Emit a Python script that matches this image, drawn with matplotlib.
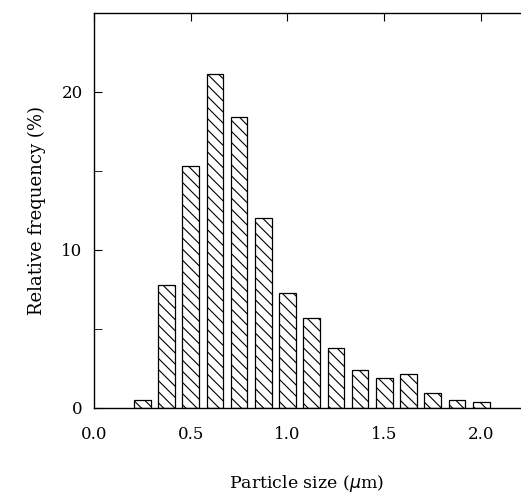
import matplotlib
matplotlib.use("Agg")
import matplotlib.pyplot as plt
import numpy as np

sizes = [0.25, 0.375, 0.5, 0.625, 0.75, 0.875, 1.0, 1.125, 1.25, 1.375, 1.5, 1.625, 1.75, 1.875, 2.0]
freq = [0.5, 7.8, 15.3, 21.1, 18.4, 12.0, 7.3, 5.7, 3.8, 2.4, 1.9, 2.15, 0.95, 0.5, 0.35]
xticks = [0.0, 0.5, 1.0, 1.5, 2.0]
xticklabels = ["0.0", "0.5", "1.0", "1.5", "2.0"]
yticks = [0, 10, 20]

plt.rcParams['font.family'] = ['DejaVu Serif']
plt.rcParams['hatch.linewidth'] = 0.8

fig = plt.figure(figsize=(5.21, 4.95), dpi=100)
ax = fig.add_axes([0.180, 0.176, 0.818, 0.798])
ax.bar(sizes, freq, width=0.086, color='white', edgecolor='black', hatch='\\\\\\', linewidth=0.9)
ax.set_xlim(0, 2.2)
ax.set_ylim(0, 25)
ax.spines['right'].set_visible(False)
ax.set_xticks(xticks)
ax.set_xticklabels(xticklabels, fontsize=12)
ax.set_yticks(yticks)
ax.set_yticklabels([str(v) for v in yticks], fontsize=12)
ax.set_yticks([5, 15, 25], minor=True)
ax.tick_params(axis='x', direction='in', top=True, bottom=False, length=6, pad=13)
ax.tick_params(axis='y', which='both', direction='in', length=6, right=False, pad=8)
for s in ['left', 'bottom', 'top']:
    ax.spines[s].set_linewidth(1.0)
ax.set_xlabel("Particle size ($\\mu$m)", fontsize=12.5, labelpad=22)
ax.set_ylabel("Relative frequency (%)", fontsize=13, labelpad=11)
fig.savefig("out.png", dpi=100)
